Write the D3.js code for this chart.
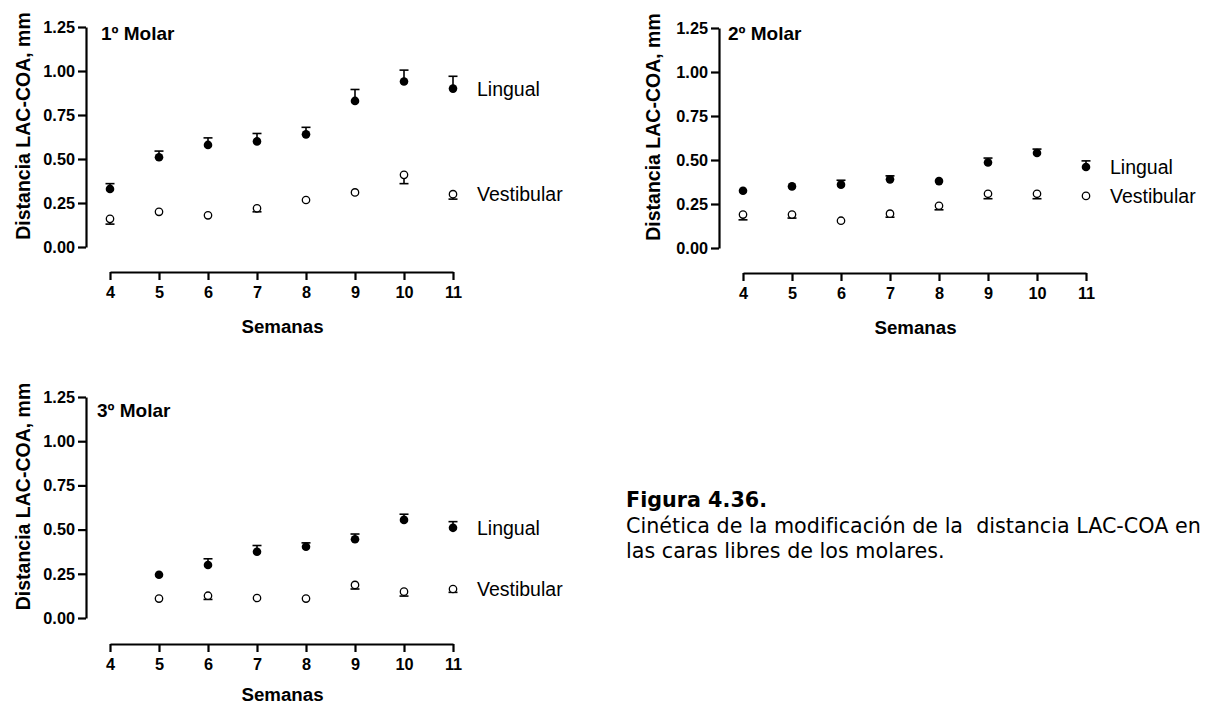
<!DOCTYPE html>
<html lang="es">
<head>
<meta charset="UTF-8"/>
<title>Figura 4.36</title>
<script src="https://cdn.jsdelivr.net/npm/d3@7"></script>
<style>
  body { margin: 0; background: #fff; }
  svg text { font-family: "Liberation Sans", Arial, sans-serif; fill: #000; }
  .axis path, .axis line { stroke: #000; stroke-width: 2.2px; }
  .axis text { font-size: 16.3px; font-weight: bold; }
  .caption { font-family: "DejaVu Sans", Verdana, sans-serif !important; font-size: 20.7px; white-space: pre; }
</style>
</head>
<body>
<script>
// semanas
var weeks = [4, 5, 6, 7, 8, 9, 10, 11];
var yTicks = [0, 0.25, 0.5, 0.75, 1.0, 1.25];

// 1º Molar
var m1Lingual       = [0.33, 0.51, 0.58, 0.60, 0.64, 0.83, 0.94, 0.90];
var m1LingualSem    = [0.03, 0.035, 0.04, 0.045, 0.04, 0.065, 0.065, 0.07];
var m1Vestibular    = [0.16, 0.20, 0.18, 0.22, 0.267, 0.31, 0.41, 0.30];
var m1VestibularSem = [0.03, 0, 0, 0.02, 0, 0, 0.05, 0.028];

// 2º Molar
var m2Lingual       = [0.325, 0.35, 0.36, 0.39, 0.38, 0.486, 0.54, 0.46];
var m2LingualSem    = [0, 0, 0.025, 0.02, 0, 0.025, 0.022, 0.035];
var m2Vestibular    = [0.19, 0.19, 0.155, 0.195, 0.24, 0.308, 0.308, 0.296];
var m2VestibularSem = [0.03, 0.02, 0, 0.02, 0.023, 0.028, 0.028, 0];

// 3º Molar (sin dato en la semana 4)
var m3Lingual       = [null, 0.245, 0.30, 0.375, 0.403, 0.445, 0.555, 0.51];
var m3LingualSem    = [0, 0, 0.035, 0.035, 0.022, 0.03, 0.032, 0.035];
var m3Vestibular    = [null, 0.11, 0.126, 0.113, 0.11, 0.187, 0.149, 0.164];
var m3VestibularSem = [0, 0, 0.021, 0, 0, 0.023, 0.025, 0.019];

var titles = ["1º Molar", "2º Molar", "3º Molar"];
var seriesNames = ["Lingual", "Vestibular"];
var yLabel = "Distancia LAC-COA, mm";
var xLabel = "Semanas";
var captionTitle = "Figura 4.36.";
var captionLines = ["Cinética de la modificación de la  distancia LAC-COA en", "las caras libres de los molares."];

var w = 1212, h = 704;

var svg = d3.select("body").append("svg")
	.attr("width", w)
	.attr("height", h);

// panel layout: axis x, y top/bottom, x axis y, x range, title pos, y label x, x label baseline
var panels = [
	{ ax: 86,  yt: 27,  yb: 247, xy: 272, x0: 110, x1: 453,  tx: 101, ty: 40,  lx: 23,  sy: 333,
	  lin: m1Lingual, linSem: m1LingualSem, ves: m1Vestibular, vesSem: m1VestibularSem },
	{ ax: 719, yt: 28,  yb: 248, xy: 273, x0: 743, x1: 1086, tx: 728, ty: 40,  lx: 653, sy: 334,
	  lin: m2Lingual, linSem: m2LingualSem, ves: m2Vestibular, vesSem: m2VestibularSem },
	{ ax: 86,  yt: 397, yb: 618, xy: 644, x0: 110, x1: 453,  tx: 97,  ty: 417, lx: 23,  sy: 701,
	  lin: m3Lingual, linSem: m3LingualSem, ves: m3Vestibular, vesSem: m3VestibularSem }
];

panels.forEach(function(p, pi) {
	var g = svg.append("g");

	var xScale = d3.scaleLinear().domain([4, 11]).range([p.x0, p.x1]);
	var yScale = d3.scaleLinear().domain([0, 1.25]).range([p.yb, p.yt]);

	// y axis
	g.append("g")
		.attr("class", "axis")
		.attr("transform", "translate(" + p.ax + ",0)")
		.call(d3.axisLeft(yScale).tickValues(yTicks).tickFormat(d3.format(".2f"))
			.tickSize(8).tickSizeOuter(0).tickPadding(3));

	// x axis (offset below)
	g.append("g")
		.attr("class", "axis")
		.attr("transform", "translate(0," + p.xy + ")")
		.call(d3.axisBottom(xScale).tickValues(weeks).tickFormat(d3.format("d"))
			.tickSize(8).tickSizeOuter(0).tickPadding(6));

	g.selectAll(".axis text").attr("fill", "#000");

	// titles
	g.append("text")
		.attr("x", p.tx)
		.attr("y", p.ty)
		.attr("font-size", "19px")
		.attr("font-weight", "bold")
		.text(titles[pi]);

	g.append("text")
		.attr("transform", "translate(" + p.lx + "," + ((p.yt + p.yb) / 2 - 11) + ") rotate(-90)")
		.attr("text-anchor", "middle")
		.attr("dy", "0.35em")
		.attr("font-size", "19.5px")
		.attr("font-weight", "bold")
		.text(yLabel);

	g.append("text")
		.attr("x", (p.x0 + p.x1) / 2 + 1)
		.attr("y", p.sy)
		.attr("text-anchor", "middle")
		.attr("font-size", "18.7px")
		.attr("font-weight", "bold")
		.text(xLabel);

	var series = [
		{ vals: p.lin, sem: p.linSem, dir: 1, filled: true },
		{ vals: p.ves, sem: p.vesSem, dir: -1, filled: false }
	];

	series.forEach(function(s, si) {
		var pts = weeks.map(function(wk, i) {
			return { wk: wk, v: s.vals[i], e: s.sem[i] };
		}).filter(function(d) { return d.v !== null; });

		// error bars (one direction only)
		var eb = g.selectAll(null)
			.data(pts.filter(function(d) { return d.e > 0; }))
			.enter().append("g")
			.attr("stroke", "#000")
			.attr("stroke-width", 1.6);
		eb.append("line")
			.attr("x1", function(d) { return xScale(d.wk); })
			.attr("x2", function(d) { return xScale(d.wk); })
			.attr("y1", function(d) { return yScale(d.v); })
			.attr("y2", function(d) { return yScale(d.v + s.dir * d.e); });
		eb.append("line")
			.attr("x1", function(d) { return xScale(d.wk) - 4.5; })
			.attr("x2", function(d) { return xScale(d.wk) + 4.5; })
			.attr("y1", function(d) { return yScale(d.v + s.dir * d.e); })
			.attr("y2", function(d) { return yScale(d.v + s.dir * d.e); });

		g.selectAll(null)
			.data(pts)
			.enter().append("circle")
			.attr("cx", function(d) { return xScale(d.wk); })
			.attr("cy", function(d) { return yScale(d.v); })
			.attr("r", s.filled ? 4.3 : 3.7)
			.attr("fill", s.filled ? "#000" : "#fff")
			.attr("stroke", "#000")
			.attr("stroke-width", s.filled ? 0 : 1.3);

		// label next to the last point
		var last = pts[pts.length - 1];
		g.append("text")
			.attr("x", xScale(last.wk) + 24)
			.attr("y", yScale(last.v))
			.attr("dy", "0.36em")
			.attr("font-size", "19.5px")
			.text(seriesNames[si]);
	});
});

// caption
var cap = svg.append("g");
cap.append("text")
	.attr("class", "caption")
	.attr("x", 626)
	.attr("y", 507)
	.attr("font-weight", "bold")
	.text(captionTitle);
cap.selectAll(null)
	.data(captionLines)
	.enter().append("text")
	.attr("class", "caption")
	.attr("x", 626)
	.attr("y", function(d, i) { return 533 + i * 25; })
	.text(function(d) { return d; });
</script>
</body>
</html>
